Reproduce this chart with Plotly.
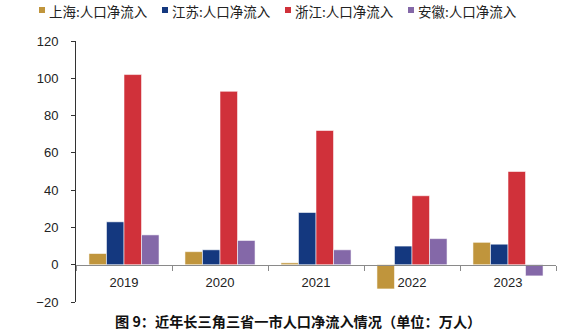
import plotly.graph_objects as go

years = ["2019", "2020", "2021", "2022", "2023"]
series_names = ["上海:人口净流入", "江苏:人口净流入", "浙江:人口净流入", "安徽:人口净流入"]
shanghai = [6, 7, 1, -13, 12]
jiangsu = [23, 8, 28, 10, 11]
zhejiang = [102, 93, 72, 37, 50]
anhui = [16, 13, 8, 14, -6]
y_ticks = [-20, 0, 20, 40, 60, 80, 100, 120]
colors = ["#C0953C", "#14387F", "#D0313A", "#8468A8"]
caption = "图 9：近年长三角三省一市人口净流入情况（单位：万人）"

W, H = 570, 330
ML, MR, MT, MB = 76, 14, 41, 28
PW, PH = W - ML - MR, H - MT - MB

def px_x(px):
    return (px - ML) / PW

def px_y(py):
    return (H - MB - py) / PH

fig = go.Figure()
for name, vals, c in zip(series_names, [shanghai, jiangsu, zhejiang, anhui], colors):
    fig.add_trace(go.Bar(
        x=years, y=vals, name=name,
        marker=dict(color=c, line=dict(color="rgba(255,255,255,0.55)", width=1)),
        showlegend=False,
    ))

# legend built from shapes + annotations
leg_centers = [42, 165, 288, 411]
for name, c, cx in zip(series_names, colors, leg_centers):
    fig.add_shape(type="rect", xref="paper", yref="paper",
                  xsizemode="pixel", ysizemode="pixel",
                  xanchor=px_x(cx), yanchor=px_y(10),
                  x0=-3, x1=3, y0=-3, y1=3,
                  fillcolor=c, line=dict(width=0))
    fig.add_annotation(x=px_x(cx + 5), y=px_y(11), xref="paper", yref="paper",
                       xanchor="left", yanchor="middle", showarrow=False,
                       text=name, font=dict(family="Noto Sans CJK SC", size=13.5, color="#222"))

fig.add_annotation(x=px_x(297.5), y=px_y(321), xref="paper", yref="paper",
                   xanchor="center", yanchor="middle", showarrow=False,
                   text="<b>" + caption + "</b>",
                   font=dict(family="Noto Sans CJK SC", size=14.2, color="#111"))

fig.update_layout(
    width=W, height=H,
    margin=dict(l=ML, r=MR, t=MT, b=MB, pad=0),
    paper_bgcolor="white", plot_bgcolor="white",
    barmode="group", bargap=0.27, bargroupgap=0,
    font=dict(family="Liberation Sans, Arial", size=13, color="#222"),
    xaxis=dict(type="category", anchor="free", position=20 / 140,
               showline=True, linecolor="#8a8a8a", linewidth=1,
               ticks="outside", tickson="boundaries", ticklen=5, tickcolor="#8a8a8a",
               showgrid=False, zeroline=False, ticklabelstandoff=6,
               tickfont=dict(family="Liberation Sans, Arial", size=13, color="#222")),
    yaxis=dict(range=[-20, 120], tickvals=y_ticks, domain=[0, 1],
               showline=True, linecolor="#333", linewidth=1,
               ticks="outside", ticklen=4, tickcolor="#333",
               showgrid=False, zeroline=False, ticklabelstandoff=10,
               tickfont=dict(family="Liberation Sans, Arial", size=13, color="#222")),
)

fig.write_html("out.html")
